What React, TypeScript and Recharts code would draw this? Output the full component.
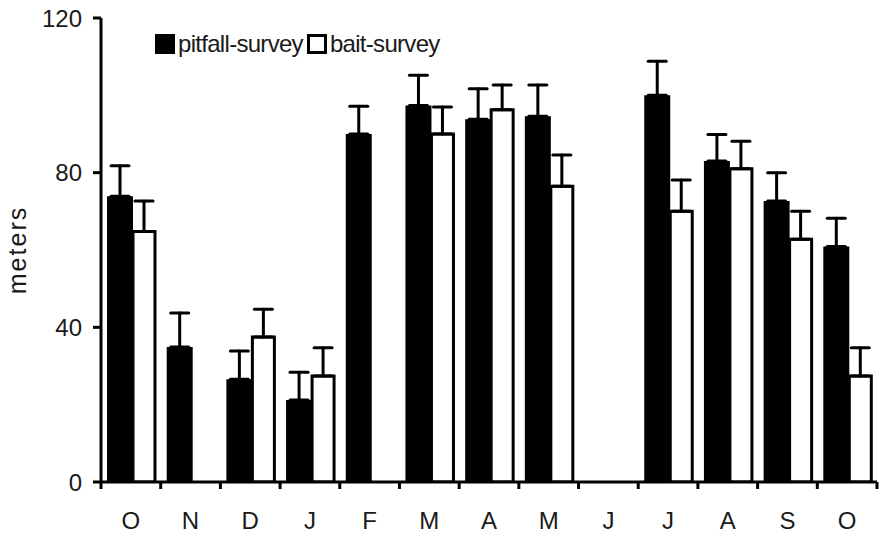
import { Bar, BarChart, ErrorBar, XAxis, YAxis } from "recharts";

const MONTHS = ["O", "N", "D", "J", "F", "M", "A", "M", "J", "J", "A", "S", "O"];
const PITFALL = [73.9, 34.9, 26.6, 21.2, 90, 97.4, 93.8, 94.6, null, 100, 83, 72.7, 60.9];
const PITFALL_ERR = [7.9, 8.8, 7.3, 7.2, 7.2, 7.8, 7.9, 8.1, null, 8.8, 6.9, 7.3, 7.3];
const BAIT = [64.8, null, 37.5, 27.4, null, 90, 96.3, 76.5, null, 70, 81, 62.8, 27.4];
const BAIT_ERR = [7.9, null, 7.2, 7.3, null, 7, 6.4, 8.1, null, 8.1, 7.1, 7.2, 7.3];
const Y_TICKS = [0, 40, 80, 120];

const data = MONTHS.map((month, i) => ({
  month,
  pitfall: PITFALL[i],
  pitfallErr: PITFALL_ERR[i] === null ? null : [0, PITFALL_ERR[i]],
  bait: BAIT[i],
  baitErr: BAIT_ERR[i] === null ? null : [0, BAIT_ERR[i]],
}));

const WIDTH = 884;
const HEIGHT = 537;
const MARGIN = { top: 18, right: 7, bottom: 0, left: 0 };
const Y_AXIS_W = 101;
const PLOT_W = WIDTH - MARGIN.left - MARGIN.right - Y_AXIS_W;
const TICK_SIZE = 7;
const TICK_MARGIN = 23;
const FONT = "'Liberation Sans', Arial, sans-serif";
const TEXT = "#1a1a1a";

function MonthTick(props: { x?: number; y?: number; index?: number; payload?: { value: string } }) {
  const { x = 0, y = 0, index = 0, payload } = props;
  const band = PLOT_W / MONTHS.length;
  const axisY = y - TICK_SIZE - TICK_MARGIN;
  return (
    <g>
      <line x1={x - band / 2} x2={x - band / 2} y1={axisY} y2={axisY + TICK_SIZE} stroke="#000" strokeWidth={3} />
      {index === MONTHS.length - 1 && (
        <line x1={x + band / 2} x2={x + band / 2} y1={axisY} y2={axisY + TICK_SIZE} stroke="#000" strokeWidth={3} />
      )}
      <text x={x} y={y} dy="0.71em" textAnchor="middle" fontSize={24} fontFamily={FONT} fill={TEXT}>
        {payload?.value}
      </text>
    </g>
  );
}

// drawn over the chart so it takes no room from the plot
function SurveyLegend() {
  const item = (filled: boolean, label: string) => (
    <span style={{ display: "inline-flex", alignItems: "center", marginRight: 4 }}>
      <svg width={20} height={20} style={{ marginRight: 3 }}>
        <rect
          x={filled ? 0 : 1.5}
          y={filled ? 0 : 1.5}
          width={filled ? 20 : 17}
          height={filled ? 20 : 17}
          fill={filled ? "#000" : "#fff"}
          stroke="#000"
          strokeWidth={filled ? 0 : 3}
        />
      </svg>
      <span style={{ fontSize: 24, letterSpacing: -0.7, fontFamily: FONT, color: TEXT, lineHeight: "24px" }}>
        {label}
      </span>
    </span>
  );
  return (
    <div style={{ position: "absolute", left: 155, top: 32, display: "flex", alignItems: "center" }}>
      {item(true, "pitfall-survey")}
      {item(false, "bait-survey")}
    </div>
  );
}

export default function App() {
  return (
    <div style={{ position: "absolute", left: 0, top: 0, width: WIDTH, height: HEIGHT, background: "#fff" }}>
      <BarChart width={WIDTH} height={HEIGHT} data={data} margin={MARGIN} barGap={0}>
        <XAxis
          dataKey="month"
          height={HEIGHT - 482}
          tickLine={false}
          tickSize={TICK_SIZE}
          tickMargin={TICK_MARGIN}
          interval={0}
          tick={<MonthTick />}
          axisLine={{ stroke: "#000", strokeWidth: 3 }}
        />
        <YAxis
          width={Y_AXIS_W}
          domain={[0, 120]}
          ticks={Y_TICKS}
          allowDataOverflow
          tickSize={8}
          tickMargin={11}
          axisLine={{ stroke: "#000", strokeWidth: 3 }}
          tickLine={{ stroke: "#000", strokeWidth: 3 }}
          tick={{ fontSize: 24, fontFamily: FONT, fill: TEXT }}
          label={{
            value: "meters",
            angle: -90,
            position: "insideLeft",
            offset: 17,
            style: { fontSize: 25, fontFamily: FONT, fill: TEXT, letterSpacing: 2, textAnchor: "middle" },
          }}
        />
        <Bar dataKey="pitfall" name="pitfall-survey" fill="#000" barSize={26} isAnimationActive={false}>
          <ErrorBar dataKey="pitfallErr" width={9} stroke="#000" strokeWidth={3} strokeLinecap="round" direction="y" />
        </Bar>
        <Bar
          dataKey="bait"
          name="bait-survey"
          fill="#fff"
          stroke="#000"
          strokeWidth={3}
          barSize={22}
          isAnimationActive={false}
        >
          <ErrorBar dataKey="baitErr" width={9} stroke="#000" strokeWidth={3} strokeLinecap="round" direction="y" />
        </Bar>
      </BarChart>
      <SurveyLegend />
    </div>
  );
}
